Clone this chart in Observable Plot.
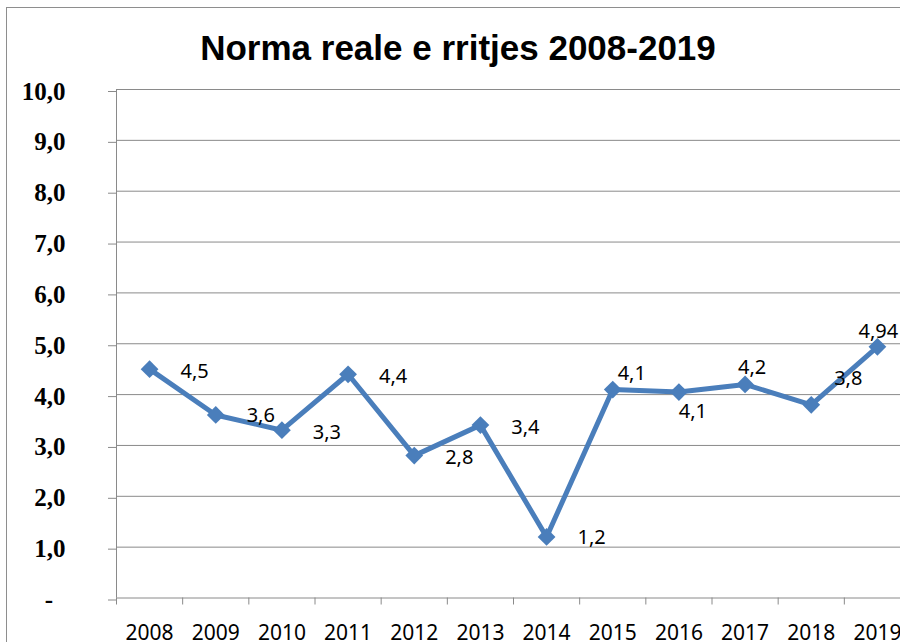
<!DOCTYPE html>
<html><head><meta charset="utf-8">
<script src="https://cdn.jsdelivr.net/npm/d3@7"></script>
<script src="https://cdn.jsdelivr.net/npm/@observablehq/plot@0.6"></script>
<style>
html,body{margin:0;padding:0;background:#fff;overflow:hidden;}
#wrap{position:relative;width:900px;height:642px;overflow:hidden;background:#fff;}
#border{position:absolute;left:6px;top:7px;width:1000px;height:1000px;border:1px solid #8e8e8e;box-sizing:border-box;pointer-events:none;}
#title{position:absolute;left:0;width:916px;top:30px;text-align:center;font:bold 35px/35px "Liberation Sans",Arial,sans-serif;color:#000;white-space:nowrap;}
#chart{position:absolute;left:0;top:0;}
</style></head><body>
<div id="wrap"><div id="border"></div><div id="chart"></div><div id="title">Norma reale e rritjes 2008-2019</div></div>
<script>
const years = ["2008","2009","2010","2011","2012","2013","2014","2015","2016","2017","2018","2019"];
const values = [4.5, 3.6, 3.3, 4.4, 2.8, 3.4, 1.2, 4.1, 4.05, 4.2, 3.8, 4.94];
const valueLabels = ["4,5","3,6","3,3","4,4","2,8","3,4","1,2","4,1","4,1","4,2","3,8","4,94"];
const yTicks = [0,1,2,3,4,5,6,7,8,9,10];
const yTickLabels = ["-","1,0","2,0","3,0","4,0","5,0","6,0","7,0","8,0","9,0","10,0"];

// label placement offsets (layout, not data)
const labelOffsets = [[45,2],[45,1],[45,2],[45,2],[45,2],[45,2],[45,1],[19,-16],[14,20],[7,-17],[37,-26],[1,-15]];

const data = years.map((year, i) => ({year, idx: i + 0.5, value: values[i], label: valueLabels[i]}));
const boundaries = d3.range(years.length + 1);
const centers = years.map((y, i) => i + 0.5);

const blue = "#4a7ebb";
const gray = "#8a8a8a";

const chart = Plot.plot({
  width: 900,
  height: 642,
  marginLeft: 116, marginRight: 0, marginTop: 89, marginBottom: 44.5,
  x: {domain: [0, years.length], range: [116, 910], axis: null, label: null},
  y: {domain: [0, 10], range: [597.5, 89], axis: null, label: null},
  style: {background: "transparent"},
  marks: [
    Plot.ruleY(yTicks.filter(d => d > 0), {stroke: gray, strokeWidth: 1}),
    Plot.axisY(yTicks, {
      label: null,
      tickSize: 8, tickPadding: 43, stroke: gray, fill: "#000",
      tickFormat: d => d === 0 ? yTickLabels[d] + "\u00a0\u00a0" : yTickLabels[d],
      fontSize: 25, fontWeight: "bold", fontFamily: "'Liberation Serif', 'Times New Roman', serif", dy: 2
    }),
    Plot.axisX(boundaries, {label: null, tickSize: 7, stroke: gray, fill: "none", tickFormat: () => ""}),
    Plot.axisX(centers, {
      label: null,
      tickSize: 0, tickPadding: 27, fill: "#000",
      tickFormat: d => years[Math.floor(d)],
      fontSize: 21, fontFamily: "'Noto Sans', sans-serif"
    }),
    Plot.ruleX([0], {stroke: gray, strokeWidth: 1}),
    Plot.ruleY([0], {stroke: gray, strokeWidth: 1}),
    Plot.line(data, {x: "idx", y: "value", stroke: blue, strokeWidth: 5}),
    Plot.dot(data, {x: "idx", y: "value", symbol: "diamond2", r: 8, fill: blue, stroke: "none"}),
    ...data.map((d, i) => Plot.text([d], {
      x: "idx", y: "value", text: "label",
      dx: labelOffsets[i][0], dy: labelOffsets[i][1],
      fontSize: 20, fontFamily: "'Noto Sans', sans-serif", fill: "#000"
    }))
  ]
});
document.getElementById("chart").appendChild(chart);
</script>
</body></html>
